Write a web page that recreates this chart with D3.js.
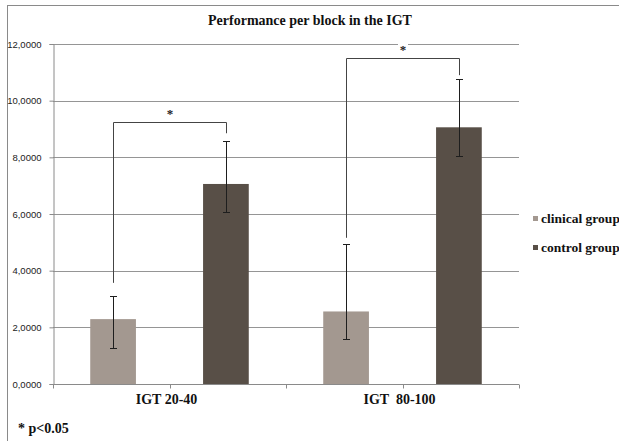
<!DOCTYPE html>
<html>
<head>
<meta charset="utf-8">
<script src="https://cdn.jsdelivr.net/npm/d3@7"></script>
<style>
  html, body { margin: 0; padding: 0; background: #fff; }
  svg { display: block; }
</style>
</head>
<body>
<svg id="chart" width="619" height="441"></svg>
<script>
// Performance per block in the IGT: mean score per group with error bars
const categories = ["IGT 20-40", "IGT  80-100"];
const seriesNames = ["clinical group", "control group"];
const clinicalValues = [2.29, 2.56];
const controlValues = [7.06, 9.06];
const clinicalErrLow = [1.02, 0.97];
const clinicalErrHigh = [0.80, 2.38];
const controlErrLow = [1.00, 1.00];
const controlErrHigh = [1.50, 1.72];
const yTicks = [0, 2, 4, 6, 8, 10, 12];
// significance brackets: bracket height, left leg end, right leg end
const bracketTop = [9.26, 11.5];
const bracketLeftEnd = [3.57, 5.16];
const bracketRightEnd = [8.85, 10.9];
const colors = ["#a39890", "#584f47"];

const values = [clinicalValues, controlValues];
const errLow = [clinicalErrLow, controlErrLow];
const errHigh = [clinicalErrHigh, controlErrHigh];

const svg = d3.select("#chart");
const margin = { left: 53, right: 100, top: 44, bottom: 57 };
const W = 619, H = 441;

// outer chart frame
svg.append("rect")
  .attr("x", 7.5).attr("y", 5.5)
  .attr("width", 700).attr("height", 600)
  .attr("fill", "none").attr("stroke", "#8a8a8a").attr("stroke-width", 1);

const x0 = d3.scaleBand().domain(categories).range([margin.left, W - margin.right]);
const x1 = d3.scaleBand().domain(seriesNames).range([0, x0.bandwidth()])
  .paddingInner(0.595).paddingOuter(0.33);
const y = d3.scaleLinear().domain([0, 12]).range([H - margin.bottom, margin.top]);

const serif = "Liberation Serif, Times New Roman, DejaVu Serif, serif";
const sans = "Liberation Sans, Arial, sans-serif";

// title
svg.append("text")
  .attr("x", 310).attr("y", 25)
  .attr("text-anchor", "middle")
  .style("font-family", serif).attr("font-weight", "bold").attr("font-size", 14)
  .attr("fill", "#111")
  .text("Performance per block in the IGT");

// horizontal gridlines
svg.append("g")
  .selectAll("line")
  .data(yTicks.filter(d => d > 0))
  .join("line")
  .attr("x1", margin.left).attr("x2", W - margin.right)
  .attr("y1", d => Math.round(y(d)) + 0.5).attr("y2", d => Math.round(y(d)) + 0.5)
  .attr("stroke", "#959595").attr("stroke-width", 1);

// y axis
const yAxis = svg.append("g")
  .attr("transform", `translate(${margin.left + 0.5},0)`)
  .call(d3.axisLeft(y).tickValues(yTicks).tickSize(4).tickPadding(8)
    .tickFormat(d => d3.format(".4f")(d).replace(".", ",")));
yAxis.select(".domain").attr("stroke", "#8a8a8a");
yAxis.selectAll(".tick line").attr("stroke", "#8a8a8a");
yAxis.selectAll(".tick text")
  .style("font-family", sans).attr("font-size", 9.5).attr("fill", "#222");

// x axis with ticks at category boundaries and centers
const xAxisY = Math.round(y(0)) + 0.5;
const xg = svg.append("g");
xg.append("line")
  .attr("x1", margin.left).attr("x2", W - margin.right)
  .attr("y1", xAxisY).attr("y2", xAxisY)
  .attr("stroke", "#8a8a8a");
const tickXs = [];
categories.forEach(c => {
  tickXs.push(x0(c));
  tickXs.push(x0(c) + x0.bandwidth() / 2);
});
tickXs.push(W - margin.right);
xg.selectAll("line.tk").data(tickXs).join("line").attr("class", "tk")
  .attr("x1", d => Math.round(d) + 0.5).attr("x2", d => Math.round(d) + 0.5)
  .attr("y1", xAxisY).attr("y2", xAxisY + 4)
  .attr("stroke", "#8a8a8a");
xg.selectAll("text").data(categories).join("text")
  .attr("x", d => x0(d) + x0.bandwidth() / 2 - 3)
  .attr("y", 404)
  .attr("text-anchor", "middle")
  .style("font-family", serif).attr("font-weight", "bold").attr("font-size", 14)
  .attr("fill", "#111")
  .style("white-space", "pre")
  .attr("xml:space", "preserve")
  .text(d => d);

// bars
const barData = [];
categories.forEach((c, ci) => {
  seriesNames.forEach((s, si) => {
    barData.push({ c, s, ci, si, v: values[si][ci], lo: errLow[si][ci], hi: errHigh[si][ci] });
  });
});
svg.append("g").selectAll("rect")
  .data(barData).join("rect")
  .attr("x", d => x0(d.c) + x1(d.s))
  .attr("width", x1.bandwidth())
  .attr("y", d => y(d.v))
  .attr("height", d => y(0) - y(d.v))
  .attr("fill", d => colors[d.si]);

// significance brackets
const cx = (c, s) => Math.round(x0(c) + x1(s) + x1.bandwidth() / 2) + 0.5;
const bg = svg.append("g");
categories.forEach((c, ci) => {
  const xl = cx(c, seriesNames[0]);
  const xr = cx(c, seriesNames[1]);
  const yt = Math.round(y(bracketTop[ci])) + 0.5;
  bg.append("path")
    .attr("d", `M${xl},${y(bracketLeftEnd[ci])}V${yt}H${xr}V${y(bracketRightEnd[ci])}`)
    .attr("fill", "none").attr("stroke", "#444").attr("stroke-width", 1);
  // asterisk with a white knockout so it sits cleanly over gridlines
  const ax = (xl + xr) / 2;
  const ay = yt - 10;
  bg.append("rect")
    .attr("x", ax - 5).attr("y", ay - 6).attr("width", 10).attr("height", 10)
    .attr("fill", "#fff");
  bg.append("text")
    .attr("x", ax).attr("y", ay + 5)
    .attr("text-anchor", "middle")
    .style("font-family", serif).attr("font-weight", "bold").attr("font-size", 13)
    .attr("fill", "#222")
    .text("*");
});

// error bars
const eg = svg.append("g").attr("stroke", "#1e1e1e").attr("stroke-width", 1);
barData.forEach(d => {
  const xc = cx(d.c, d.s);
  const yHi = Math.round(y(d.v + d.hi)) + 0.5;
  const yLo = Math.round(y(d.v - d.lo)) + 0.5;
  eg.append("line").attr("x1", xc).attr("x2", xc).attr("y1", yHi).attr("y2", yLo);
  eg.append("line").attr("x1", xc - 3.5).attr("x2", xc + 3.5).attr("y1", yHi).attr("y2", yHi);
  eg.append("line").attr("x1", xc - 3.5).attr("x2", xc + 3.5).attr("y1", yLo).attr("y2", yLo);
});

// legend
const lg = svg.append("g");
seriesNames.forEach((s, i) => {
  const ly = 219 + i * 29;
  lg.append("rect")
    .attr("x", 533).attr("y", ly - 3).attr("width", 5).attr("height", 5)
    .attr("fill", colors[i]);
  lg.append("text")
    .attr("x", 541).attr("y", ly + 4)
    .style("font-family", serif).attr("font-weight", "bold").attr("font-size", 13.5)
    .attr("fill", "#111")
    .text(s);
});

// significance note
svg.append("text")
  .attr("x", 18).attr("y", 433)
  .style("font-family", serif).attr("font-weight", "bold").attr("font-size", 14)
  .attr("fill", "#111")
  .text("* p<0.05");
</script>
</body>
</html>
